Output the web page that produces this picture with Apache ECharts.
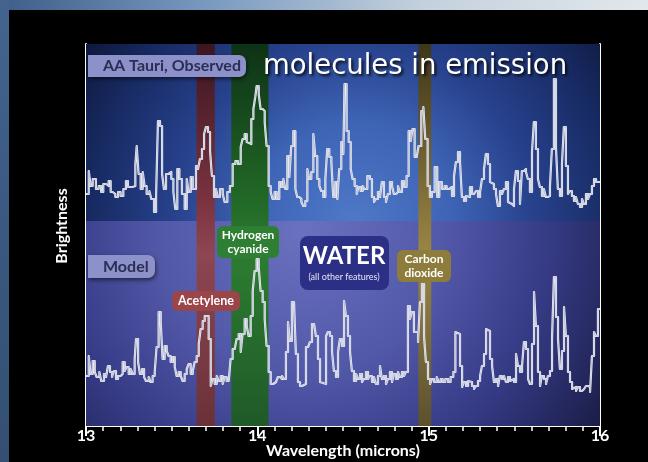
<!DOCTYPE html>
<html>
<head>
<meta charset="utf-8">
<script src="https://cdn.jsdelivr.net/npm/echarts@6/dist/echarts.min.js"></script>
<style>html,body{margin:0;padding:0;background:#000}#c{width:648px;height:462px}</style>
</head>
<body>
<div id="c"></div>
<script>
// ---- data (wavelength in microns, brightness in arbitrary units) ----
const obsWavelength = [13.000,13.016,13.027,13.039,13.058,13.074,13.088,13.101,13.117,13.132,13.144,13.156,13.171,13.187,13.202,13.218,13.233,13.245,13.272,13.288,13.296,13.307,13.319,13.331,13.342,13.354,13.370,13.381,13.397,13.409,13.420,13.432,13.444,13.455,13.467,13.482,13.498,13.510,13.521,13.533,13.545,13.560,13.576,13.588,13.599,13.611,13.623,13.642,13.654,13.665,13.677,13.689,13.700,13.712,13.724,13.735,13.747,13.759,13.770,13.782,13.798,13.809,13.825,13.840,13.856,13.872,13.887,13.903,13.914,13.926,13.938,13.949,13.965,13.977,13.988,13.996,
14.008,14.019,14.031,14.043,14.054,14.066,14.078,14.089,14.101,14.113,14.128,14.140,14.152,14.163,14.175,14.187,14.198,14.210,14.222,14.233,14.245,14.257,14.268,14.280,14.292,14.303,14.315,14.327,14.338,14.350,14.362,14.373,14.385,14.397,14.408,14.420,14.432,14.443,14.455,14.467,14.478,14.490,14.502,14.509,14.521,14.533,14.545,14.556,14.568,14.580,14.591,14.603,14.615,14.626,14.642,14.657,14.669,14.681,14.692,14.704,14.716,14.727,14.739,14.751,14.762,14.774,14.786,14.797,14.809,14.821,14.832,14.844,14.856,14.871,14.883,14.895,14.906,14.918,14.930,14.941,14.957,14.969,14.980,
14.994,15.007,15.019,15.035,15.050,15.062,15.077,15.093,15.105,15.120,15.136,15.148,15.159,15.171,15.183,15.194,15.206,15.218,15.229,15.241,15.253,15.265,15.276,15.288,15.300,15.311,15.323,15.334,15.346,15.358,15.369,15.381,15.393,15.404,15.416,15.428,15.439,15.451,15.463,15.474,15.486,15.498,15.509,15.521,15.533,15.544,15.556,15.568,15.579,15.591,15.603,15.614,15.626,15.638,15.649,15.661,15.673,15.684,15.696,15.708,15.719,15.731,15.743,15.754,15.766,15.778,15.789,15.801,15.813,15.824,15.836,15.848,15.860,15.871,15.883,15.895,15.906,15.918,15.930,15.941,15.953,15.965,15.977,16.000];
const obsBrightness = [232,255,240,247,237,240,234,242,240,245,234,232,229,234,230,237,245,239,240,262,280,252,237,254,240,232,235,227,214,230,305,300,252,237,252,254,247,234,217,257,247,232,217,247,234,249,237,260,257,267,277,292,299,294,275,250,229,237,229,237,232,224,234,240,262,265,262,279,287,292,284,282,307,317,329,340,
332,317,315,304,280,240,234,227,234,227,244,239,247,237,270,249,280,295,237,229,227,224,220,225,257,247,254,292,270,247,240,235,229,247,277,269,264,229,244,227,257,284,272,342,295,284,257,247,240,232,239,235,240,237,250,247,229,224,227,234,229,244,229,224,232,244,240,232,234,240,234,245,239,250,295,285,297,269,267,280,315,319,287,
240,229,234,259,229,244,237,240,237,239,230,250,264,274,264,229,225,230,229,239,232,230,235,229,234,247,257,272,262,244,242,237,232,220,235,232,237,244,224,222,220,237,255,245,222,255,257,254,247,234,274,304,277,247,239,230,237,229,230,240,277,347,279,237,230,262,299,260,232,235,230,225,229,222,219,227,222,232,227,232,240,247,244,244];

const modelWavelength = [13.000,13.016,13.027,13.039,13.051,13.062,13.078,13.089,13.105,13.117,13.128,13.140,13.152,13.163,13.175,13.187,13.202,13.214,13.226,13.237,13.249,13.261,13.272,13.284,13.292,13.304,13.315,13.327,13.339,13.350,13.366,13.377,13.389,13.401,13.412,13.424,13.436,13.447,13.459,13.471,13.482,13.494,13.506,13.518,13.529,13.541,13.553,13.564,13.576,13.588,13.599,13.611,13.623,13.634,13.646,13.658,13.669,13.681,13.693,13.704,13.716,13.728,13.739,13.751,13.763,13.774,13.786,13.798,13.809,13.821,13.833,13.844,13.856,13.868,13.879,13.891,13.903,13.914,13.926,13.938,13.949,13.961,13.973,13.984,13.996,
14.008,14.019,14.031,14.043,14.054,14.066,14.078,14.093,14.109,14.120,14.132,14.144,14.155,14.167,14.179,14.190,14.202,14.214,14.225,14.237,14.249,14.261,14.272,14.284,14.296,14.307,14.319,14.331,14.342,14.354,14.366,14.377,14.401,14.412,14.424,14.436,14.447,14.459,14.471,14.482,14.494,14.506,14.517,14.529,14.541,14.552,14.564,14.576,14.587,14.599,14.611,14.622,14.634,14.646,14.657,14.669,14.681,14.692,14.704,14.716,14.727,14.739,14.751,14.762,14.774,14.786,14.797,14.809,14.821,14.832,14.844,14.856,14.867,14.879,14.891,14.902,14.914,14.926,14.938,14.949,14.961,14.973,14.984,14.996,
15.008,15.019,15.031,15.047,15.058,15.070,15.082,15.097,15.113,15.128,15.144,15.156,15.167,15.183,15.195,15.206,15.218,15.230,15.241,15.253,15.265,15.276,15.288,15.300,15.311,15.323,15.335,15.346,15.358,15.370,15.381,15.393,15.405,15.416,15.428,15.440,15.451,15.463,15.475,15.486,15.498,15.510,15.521,15.533,15.545,15.556,15.568,15.580,15.591,15.603,15.615,15.626,15.638,15.650,15.661,15.673,15.685,15.696,15.708,15.720,15.731,15.743,15.755,15.766,15.778,15.790,15.801,15.813,15.825,15.837,15.848,15.860,15.871,15.883,15.895,15.907,15.918,15.930,15.942,15.953,15.965,15.976,15.988,16.000];
const modelBrightness = [50,70,52,65,54,49,54,45,52,49,60,54,49,55,47,50,52,64,55,59,52,57,52,67,87,64,52,57,49,45,49,44,50,54,79,114,104,67,80,75,70,64,69,59,50,54,50,45,52,57,62,52,55,64,70,82,97,105,110,110,87,40,47,42,50,45,50,42,49,45,47,67,77,79,87,92,74,92,107,100,90,110,135,155,167,
159,135,124,107,80,54,42,44,42,49,47,50,47,74,104,85,124,125,72,44,40,39,42,79,79,84,102,104,90,67,44,42,90,94,90,74,55,49,74,87,80,125,110,90,74,55,45,52,47,52,44,47,54,47,50,44,49,42,50,60,47,50,42,47,54,44,52,47,54,49,54,50,54,120,107,114,94,94,84,124,142,90,64,47,
42,47,44,49,44,47,44,47,44,49,54,94,92,60,39,44,40,45,44,40,37,40,45,50,60,72,97,95,67,60,44,47,40,50,47,50,44,49,45,47,44,72,60,54,60,84,77,47,42,82,134,100,54,40,50,47,42,50,55,87,149,109,87,57,75,119,90,54,44,37,39,35,39,35,37,35,40,39,34,70,94,90,117,117];

// x-axis and y-axis setup
const xMin = 13, xMax = 16;
const xTickLabels = ['13','14','15','16'];
const xAxisTitle = 'Wavelength (microns)';
const yAxisTitle = 'Brightness';
const yMin = 0, yMax = 382;
const yTickValues = [33, 169, 307];
const panelSplit = 205; // boundary between "observed" and "model" panels (brightness units)

// molecule bands (microns)
const bandNames = ['Acetylene', 'Hydrogen cyanide', 'Carbon dioxide'];
const bandStart = [13.645, 13.848, 14.94];
const bandEnd   = [13.752, 14.065, 15.015];
const bandColors = [
  ['#3a1621','#7b3440','#8d4652','#6a3139'],
  ['#0e3216','#226a27','#2d7c31','#1f5a28'],
  ['#3e3619','#85733a','#9a8745','#5c502e']
];

const obsData = obsWavelength.map((w,i)=>[w, obsBrightness[i]]);
const modelData = modelWavelength.map((w,i)=>[w, modelBrightness[i]]);

const chart = echarts.init(document.getElementById('c'), null, {renderer:'canvas'});
const FONT = 'Lato, "Open Sans", sans-serif';

function lineSeries(data, color, width, z){
  return {type:'line', data, step:'end', showSymbol:false, symbol:'none', z,
    xAxisIndex:0, yAxisIndex:0, silent:true,
    lineStyle:{color, width, join:'round', cap:'butt'}};
}

const bandAreas = bandNames.map((n,i)=>[
  {xAxis: bandStart[i], yAxis: yMax, itemStyle:{color:{type:'linear',x:0,y:0,x2:0,y2:1,colorStops:[
    {offset:0,color:bandColors[i][0]},{offset:0.42,color:bandColors[i][1]},{offset:0.55,color:bandColors[i][2]},{offset:1,color:bandColors[i][3]}]}}},
  {xAxis: bandEnd[i], yAxis: yMin}
]);

const option = {
  backgroundColor:'#000',
  animation:false,
  grid:{left:86, right:48, top:44, bottom:36, show:false, containLabel:false, outerBoundsMode:'none'},
  xAxis:[
    {type:'value', min:xMin, max:xMax, interval:1, position:'bottom',
     axisLine:{lineStyle:{color:'#fff', width:2}},
     axisTick:{inside:true, length:10, lineStyle:{color:'#fff', width:2}},
     minorTick:{show:true, splitNumber:10, length:5, lineStyle:{color:'#fff', width:1.5}},
     splitLine:{show:false},
     axisLabel:{color:'#fff', fontSize:16, fontWeight:'bold', fontFamily:FONT, margin:2,
       formatter:(v)=>xTickLabels[Math.round(v - xMin)]}},
    {type:'value', min:xMin, max:xMax, interval:1, position:'top',
     axisLine:{lineStyle:{color:'#fff', width:2}},
     axisTick:{inside:true, length:10, lineStyle:{color:'#fff', width:2}},
     minorTick:{show:true, splitNumber:10, length:5, lineStyle:{color:'#fff', width:1.5}},
     splitLine:{show:false}, axisLabel:{show:false}}
  ],
  yAxis:[
    {type:'value', min:yMin, max:yMax, position:'left',
     axisLine:{show:true, lineStyle:{color:'#fff', width:2}},
     axisTick:{show:true, inside:true, length:8, customValues:yTickValues, lineStyle:{color:'#fff', width:2}},
     axisLabel:{show:false}, splitLine:{show:false}},
    {type:'value', min:yMin, max:yMax, position:'right',
     axisLine:{show:true, lineStyle:{color:'#fff', width:2}},
     axisTick:{show:true, inside:true, length:8, customValues:yTickValues, lineStyle:{color:'#fff', width:2}},
     axisLabel:{show:false}, splitLine:{show:false}}
  ],
  series:[
    {type:'line', data:[], z:0, silent:true, xAxisIndex:0, yAxisIndex:0,
     markArea:{silent:true, data:[
       [{xAxis:xMin, yAxis:yMax, itemStyle:{color:{type:'radial', x:0.52, y:1, r:1.85, colorStops:[
          {offset:0,color:'#4f78c7'},{offset:0.3,color:'#3e64b5'},{offset:0.55,color:'#27418c'},{offset:0.8,color:'#172a62'},{offset:1,color:'#0d1638'}]}}},
        {xAxis:xMax, yAxis:panelSplit}],
       [{xAxis:xMin, yAxis:panelSplit, itemStyle:{color:{type:'radial', x:0.42, y:0.05, r:2.0, colorStops:[
          {offset:0,color:'#6a71bf'},{offset:0.35,color:'#5258a8'},{offset:0.6,color:'#363b86'},{offset:0.85,color:'#1c1f4b'},{offset:1,color:'#121430'}]}}},
        {xAxis:xMax, yAxis:yMin}]
     ]}},
    {type:'line', data:[], z:1, silent:true, xAxisIndex:0, yAxisIndex:0,
     markArea:{silent:true, data:bandAreas}},
    lineSeries(obsData, '#eef0f7', 2.2, 3),
    lineSeries(obsData, '#b3b7cb', 0.8, 4),
    lineSeries(modelData, '#eef0f7', 2.2, 3),
    lineSeries(modelData, '#b3b7cb', 0.8, 4)
  ],
  graphic:[
    // slide background strips
    {type:'rect', z:-1, silent:true, shape:{x:0,y:0,width:648,height:10},
     style:{fill:{type:'linear',x:0,y:0,x2:1,y2:0,colorStops:[{offset:0,color:'#3e5d88'},{offset:0.3,color:'#7496bd'},{offset:0.65,color:'#c3d0dd'},{offset:1,color:'#e2e8ec'}]}}},
    {type:'rect', z:-1, silent:true, shape:{x:0,y:0,width:9,height:462},
     style:{fill:{type:'linear',x:0,y:0,x2:0,y2:1,colorStops:[{offset:0,color:'#44648f'},{offset:0.5,color:'#3a5880'},{offset:1,color:'#344f72'}]}}},
    // axis titles
    {type:'text', z:100, silent:true, x:62, y:226, rotation:Math.PI/2,
     style:{text:yAxisTitle, fill:'#fff', font:'bold 16px '+FONT, align:'center', verticalAlign:'middle'}},
    {type:'text', z:100, silent:true, x:343, y:451,
     style:{text:xAxisTitle, fill:'#fff', font:'bold 16px '+FONT, align:'center', verticalAlign:'middle'}},
    // title
    {type:'text', z:100, silent:true, x:263, y:67,
     style:{text:'molecules in emission', fill:'#fff', font:'27.5px "DejaVu Sans", sans-serif',
       verticalAlign:'middle', textShadowColor:'rgba(0,0,0,0.85)', textShadowBlur:3, textShadowOffsetX:2, textShadowOffsetY:2}},
    // panel labels
    {type:'rect', z:100, silent:true, shape:{x:88,y:55,width:158,height:22,r:[0,7,7,0]},
     style:{fill:'#8d91c9', shadowColor:'rgba(0,0,0,0.55)', shadowBlur:4, shadowOffsetX:1, shadowOffsetY:2}},
    {type:'text', z:101, silent:true, x:103, y:66,
     style:{text:'AA Tauri, Observed', fill:'#2b2e55', font:'bold 16px '+FONT, verticalAlign:'middle'}},
    {type:'rect', z:100, silent:true, shape:{x:88,y:255,width:67,height:23,r:[0,7,7,0]},
     style:{fill:'#8d91c9', shadowColor:'rgba(0,0,0,0.55)', shadowBlur:4, shadowOffsetX:1, shadowOffsetY:2}},
    {type:'text', z:101, silent:true, x:103, y:267,
     style:{text:'Model', fill:'#2b2e55', font:'bold 16px '+FONT, verticalAlign:'middle'}},
    // molecule labels
    {type:'rect', z:100, silent:true, shape:{x:172,y:291,width:68,height:20,r:6}, style:{fill:'#9a4549'}},
    {type:'text', z:101, silent:true, x:206, y:301,
     style:{text:bandNames[0], fill:'#fff', font:'bold 12.5px '+FONT, align:'center', verticalAlign:'middle'}},
    {type:'rect', z:100, silent:true, shape:{x:217,y:226,width:62,height:32,r:6}, style:{fill:'#2e7e33'}},
    {type:'text', z:101, silent:true, x:248, y:242,
     style:{text:'Hydrogen\ncyanide', fill:'#fff', font:'bold 12px '+FONT, align:'center', verticalAlign:'middle', lineHeight:14}},
    {type:'rect', z:100, silent:true, shape:{x:300,y:236,width:89,height:54,r:8}, style:{fill:'#2b2f86'}},
    {type:'text', z:101, silent:true, x:344, y:256,
     style:{text:'WATER', fill:'#fff', font:'bold 24px '+FONT, align:'center', verticalAlign:'middle'}},
    {type:'text', z:101, silent:true, x:344, y:277,
     style:{text:'(all other features)', fill:'#e6e8f4', font:'9px '+FONT, align:'center', verticalAlign:'middle'}},
    {type:'rect', z:100, silent:true, shape:{x:397,y:250,width:54,height:32,r:6}, style:{fill:'#8e7c3c'}},
    {type:'text', z:101, silent:true, x:424, y:266,
     style:{text:'Carbon\ndioxide', fill:'#fff', font:'bold 12px '+FONT, align:'center', verticalAlign:'middle', lineHeight:14}}
  ]
};
chart.setOption(option);
</script>
</body>
</html>
